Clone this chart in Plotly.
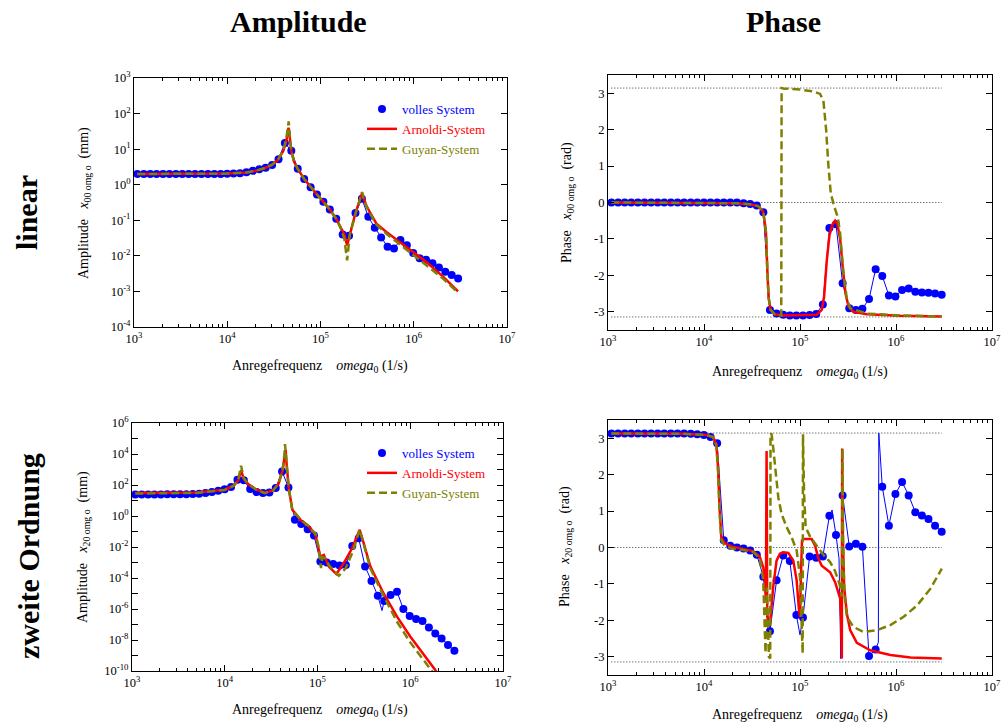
import plotly.graph_objects as go

SERIF = "Liberation Serif"
BLUE = "#0000ff"
RED = "#ff0000"
OLIVE = "#808000"

# ---------------- data ----------------
FREQ = [1086, 1274, 1493, 1746, 2047, 2399, 2812, 3296, 3855, 4519, 5297, 6209, 7278, 8511, 9977,
        11695, 13709, 16069, 18793, 22029, 25823, 30269, 35481, 41495, 48641, 57016, 66834, 78343,
        91622, 107399, 125893, 147571, 172982, 202302, 237137, 277971, 325837, 381944, 446684,
        523600, 613762, 719449, 843335, 986279, 1156112, 1355189, 1588546, 1862087, 2177942,
        2552701, 2992265]

# linear – amplitude (volles System)
TL_BLUE = [2.0, 2.0, 2.0, 2.0, 2.0, 2.0, 2.0, 2.0, 2.0, 2.0, 2.0, 2.0, 2.0, 2.0, 2.02,
           2.05, 2.1, 2.25, 2.45, 2.7, 3.0, 3.6, 5.2, 15, 9, 2.8, 1.45, 0.85,
           0.53, 0.33, 0.2, 0.11, 0.04, 0.037, 0.16, 0.4, 0.125, 0.062, 0.033,
           0.018, 0.016, 0.028, 0.02, 0.012, 0.0085, 0.0078, 0.0062, 0.0047, 0.0036,
           0.0029, 0.0023]
TL_RED_F = [1083, 10000, 16000, 20000, 25000, 30000, 35000, 40000, 43000, 44500, 45400, 46500,
            48641, 52000, 57016, 66834, 78343, 91622, 107399, 125893, 147571, 165000, 180000,
            193000, 204000, 237137, 260000, 279000, 290000, 310000, 338000, 398000, 509000,
            708000, 984000, 1367000, 2061000, 2985000]
TL_RED_V = [2.0, 2.05, 2.2, 2.45, 2.9, 3.6, 5.0, 9.0, 17, 28, 40, 25,
            9.0, 4.5, 2.8, 1.45, 0.85, 0.53, 0.33, 0.2, 0.11, 0.065, 0.04,
            0.0195, 0.035, 0.16, 0.33, 0.58, 0.42, 0.26, 0.17, 0.08, 0.047,
            0.025, 0.013, 0.0067, 0.0026, 0.001]
TL_OLV_F = [1083, 10000, 16000, 20000, 25000, 30000, 35000, 40000, 43000, 44500, 45600, 47000,
            48641, 52000, 57016, 66834, 78343, 91622, 107399, 125893, 147571, 165000, 180000,
            188000, 193000, 198000, 206000, 237137, 260000, 279000, 290000, 310000, 338000,
            398000, 509000, 708000, 984000, 1367000, 2061000, 2985000]
TL_OLV_V = [2.0, 2.05, 2.2, 2.45, 2.9, 3.6, 5.0, 9.5, 20, 40, 60, 22,
            9.0, 4.5, 2.8, 1.45, 0.85, 0.53, 0.33, 0.2, 0.11, 0.06, 0.03,
            0.015, 0.0075, 0.014, 0.04, 0.15, 0.32, 0.62, 0.42, 0.25, 0.16,
            0.075, 0.042, 0.021, 0.011, 0.0055, 0.0023, 0.00093]

# linear – phase
TR_BLUE = [0.0] * 20 + [-0.02, -0.04, -0.08, -0.27, -2.95, -3.05, -3.08, -3.1, -3.1, -3.1,
                        -3.09, -3.06, -2.8, -0.7, -0.6, -2.22, -2.9, -2.95, -2.92, -2.65,
                        -1.83, -2.02, -2.55, -2.58, -2.4, -2.36, -2.45, -2.47, -2.48, -2.5, -2.53]
TR_RED_F = [1083, 9017, 21770, 30000, 36640, 41390, 44150, 45600, 47030, 49320, 54800, 66980,
            149300, 168400, 178100, 190000, 202700, 217800, 232200, 245500, 261800, 279300,
            297900, 320000, 360600, 497500, 1109000, 3000000]
TR_RED_V = [0, 0, -0.02, -0.05, -0.1, -0.25, -0.8, -1.8, -2.6, -2.95, -3.07, -3.1,
            -3.08, -2.95, -2.6, -1.6, -0.9, -0.6, -0.5, -0.6, -1.0, -1.8,
            -2.5, -2.85, -3.0, -3.07, -3.11, -3.13]
TR_OLV_F = [1083, 9017, 21770, 30000, 36640, 41390, 44150, 45600, 47030, 49320, 54800, 63800,
            64330, 66980, 100000, 137700, 161800, 175300, 187100, 197800, 209300, 226500,
            247500, 261800, 283800, 307600, 333200, 497500, 1109000, 3000000]
TR_OLV_V = [0, 0, -0.02, -0.05, -0.1, -0.25, -0.8, -1.8, -2.6, -2.95, -3.07, -3.1,
            3.14, 3.13, 3.1, 3.05, 2.98, 2.8, 2.0, 1.0, 0.25, -0.1,
            -0.4, -0.85, -1.95, -2.65, -2.9, -3.05, -3.1, -3.13]

# zweite Ordnung – amplitude
BL_BLUE = [24, 24, 24, 24, 24, 25, 25, 25, 25, 26, 27, 30, 35, 42, 54,
           73, 220, 200, 55, 35, 30, 33, 63, 750, 70, 0.57, 0.30, 0.14,
           0.055, 0.00115, 0.001, 0.00081, 0.00063, 0.0007, 0.0118, 0.037, 0.00055, 6.5e-5, 7.2e-6,
           3.3e-6, 8e-6, 1.3e-5, 1e-6, 3.5e-7, 2.3e-7, 1.7e-7, 6.5e-8, 2.6e-8, 1.26e-8,
           4.7e-9, 2e-9]
BL_BLUE_EXTRA_F = [496000]
BL_BLUE_EXTRA_V = [7.9e-7]
BL_RED_F = [1083, 5000, 10000, 12500, 14000, 15000, 16000, 18000, 22000, 27000, 33000, 38000,
            42000, 44000, 45300, 46500, 49000, 53500, 65600, 80700, 95100, 103300, 107600,
            117000, 132400, 160000, 192000, 236000, 267000, 285000, 315000, 372000, 516000,
            720000, 1000000, 1390000, 1860000, 3000000]
BL_RED_V = [30, 33, 50, 90, 200, 870, 250, 110, 50, 32, 45, 120,
            800, 5000, 19000, 2000, 60, 2.5, 0.56, 0.21, 0.06, 0.0065, 0.0024,
            0.0031, 5.5e-4, 1.8e-4, 9e-4, 0.0083, 0.048, 0.13, 0.017, 5.5e-4, 1e-5,
            3.2e-7, 1.7e-8, 1.1e-9, 1.15e-10, 1e-12]
BL_OLV_F = [1083, 5000, 10000, 12500, 14000, 15000, 16000, 18000, 22000, 27000, 33000, 38000,
            42000, 44000, 44600, 46000, 49000, 53500, 65600, 80700, 95100, 103000, 109000,
            113000, 120000, 135000, 170000, 200000, 240000, 268000, 285000, 315000, 372000,
            516000, 720000, 1000000, 1390000, 1710000, 3000000]
BL_OLV_V = [28, 31, 48, 90, 220, 1750, 280, 110, 48, 30, 43, 120,
            1000, 9000, 44000, 3000, 60, 2.5, 0.6, 0.22, 0.07, 0.01, 4.3e-4,
            0.0022, 0.002, 6e-4, 1.4e-4, 4e-4, 0.005, 0.04, 0.13, 0.015, 4e-4,
            7e-6, 1.5e-7, 7e-9, 5e-10, 1e-10, 1e-13]

# zweite Ordnung – phase
BR_BLUE = [3.13] * 12 + [3.12, 3.11, 3.09, 3.03, 2.86, 0.2, 0.05, 0.0, -0.03, -0.08, -0.2,
                         -0.8, -2.3, -0.9, -0.22, -0.37, -1.85, -1.92, -0.25, -0.28, -0.25,
                         0.87, 0.34, 1.43, 0.03, 0.1, 0.02, -2.98, -2.8, 1.67, 0.6, 1.47,
                         1.8, 1.43, 0.97, 0.88, 0.78, 0.6, 0.43]
BR_BLUE_EXTRA_F = [100000, 215800, 255000, 266000, 270000, 655000, 662000]
BR_BLUE_EXTRA_V = [-2.4, 1.03, -0.3, -3.05, -1.0, -2.6, 3.14]
BR_RED_F = [1083, 6030, 10570, 12410, 13450, 14000, 14580, 15170, 16440, 19310, 25580, 32530,
            38190, 41390, 43050, 44150, 44870, 45600, 48550, 52600, 57000, 61800, 66980, 75530,
            85170, 92270, 97640, 100000, 102400, 104900, 108300, 132400, 143500, 155500, 168400,
            181100, 205900, 232200, 251600, 261800, 268500, 272800, 274900, 279300, 288400,
            307600, 333200, 391000, 539300, 873400, 1413000, 3000000]
BR_RED_V = [3.13, 3.12, 3.09, 3.04, 2.83, 2.2, 1.01, 0.28, 0.12, 0.03, -0.04, -0.1,
            -0.26, -0.54, -0.9, -1.45, 2.65, -1.9, -2.13, -1.08, -0.36, -0.17, -0.13, -0.15,
            -0.36, -0.9, -1.72, -1.9, -0.72, 0.19, 0.23, 0.23, 0.05, -0.3, -0.5,
            -0.56, -0.68, -0.95, -1.25, -1.4, -2.0, -3.05, 2.72, 0.37, -1.08,
            -1.81, -2.27, -2.62, -2.82, -2.95, -3.02, -3.05]
BR_OLV_F = [1083, 6030, 10570, 12410, 13450, 14000, 14580, 15170, 16440, 19310, 25580, 32530,
            38190, 41390, 43750, 45160, 47410, 48940, 49320, 50540, 52600, 55680, 59400, 64330,
            72580, 81880, 92270, 100000, 104000, 106600, 107400, 110200, 114600, 127300, 149300,
            175300, 205900, 232200, 257600, 272800, 277300, 281500, 290400, 307600, 360600,
            458800, 632400, 873400, 1202000, 1659000, 2286000, 3000000]
BR_OLV_V = [3.13, 3.12, 3.09, 3.03, 2.8, 2.1, 0.9, 0.2, 0.05, -0.02, -0.07, -0.12,
            -0.3, -0.9, -2.9, -1.1, -3.0, -3.05, 3.13, 3.11, 2.74, 2.1, 1.38, 0.92,
            0.56, 0.28, -0.08, -0.81, -2.18, -2.91, 3.11, 1.5, 0.55, 0.3, 0.05,
            -0.2, -0.4, -0.65, -1.0, -1.35, 2.72, 0.0, -1.3, -1.9, -2.18,
            -2.32, -2.27, -2.13, -1.9, -1.59, -1.13, -0.58]

REF_F = [1083, 3000000]
REF_LEVELS = [3.14159, 0.0, -3.14159]

X_EXP = [3, 4, 5, 6, 7]
TL_Y_EXP = [-4, -3, -2, -1, 0, 1, 2, 3]
BL_Y_EXP = [-10, -8, -6, -4, -2, 0, 2, 4, 6]
BL_Y_MINOR_EXP = [-9, -7, -5, -3, -1, 1, 3, 5]
PHASE_TICKS = [-3, -2, -1, 0, 1, 2, 3]

SERIES_NAMES = ["volles System", "Arnoldi-System", "Guyan-System"]

# ---------------- figure ----------------
fig = go.Figure()


def merged(fx, fy, ex, ey):
    pts = sorted(zip(list(fx) + list(ex), list(fy) + list(ey)))
    return [p[0] for p in pts], [p[1] for p in pts]


panels = [
    ("x", "y", TL_BLUE, [], [], TL_RED_F, TL_RED_V, TL_OLV_F, TL_OLV_V, "legend", False),
    ("x2", "y2", TR_BLUE, [], [], TR_RED_F, TR_RED_V, TR_OLV_F, TR_OLV_V, None, True),
    ("x3", "y3", BL_BLUE, BL_BLUE_EXTRA_F, BL_BLUE_EXTRA_V, BL_RED_F, BL_RED_V, BL_OLV_F, BL_OLV_V, "legend2", False),
    ("x4", "y4", BR_BLUE, BR_BLUE_EXTRA_F, BR_BLUE_EXTRA_V, BR_RED_F, BR_RED_V, BR_OLV_F, BR_OLV_V, None, True),
]

for xa, ya, blue, exf, exv, rf, rv, of, ov, leg, phase in panels:
    if phase:
        for lvl in REF_LEVELS:
            fig.add_trace(go.Scatter(x=REF_F, y=[lvl, lvl], xaxis=xa, yaxis=ya, mode="lines",
                                     line=dict(color="black", width=0.8, dash="1px,2px"),
                                     showlegend=False, hoverinfo="skip"))
    lx, ly = merged(FREQ, blue, exf, exv)
    fig.add_trace(go.Scatter(x=lx, y=ly, xaxis=xa, yaxis=ya, mode="lines",
                             line=dict(color=BLUE, width=1), showlegend=False))
    show = leg is not None
    fig.add_trace(go.Scatter(x=FREQ, y=blue, xaxis=xa, yaxis=ya, mode="markers",
                             marker=dict(color=BLUE, size=8),
                             name=f'<span style="color:{BLUE}">{SERIES_NAMES[0]}</span>',
                             showlegend=show, legend=leg if show else None))
    fig.add_trace(go.Scatter(x=rf, y=rv, xaxis=xa, yaxis=ya, mode="lines",
                             line=dict(color=RED, width=2.5),
                             name=f'<span style="color:{RED}">{SERIES_NAMES[1]}</span>',
                             showlegend=show, legend=leg if show else None))
    fig.add_trace(go.Scatter(x=of, y=ov, xaxis=xa, yaxis=ya, mode="lines",
                             line=dict(color=OLIVE, width=2.5, dash="8px,4px"),
                             name=f'<span style="color:{OLIVE}">{SERIES_NAMES[2]}</span>',
                             showlegend=show, legend=leg if show else None))

tickfont = dict(family=SERIF, size=12.5, color="black")
x_minor = [m * 10 ** e for e in range(3, 7) for m in range(2, 10)]

COMMON = dict(ticks="inside", ticklen=6, tickcolor="black", mirror="allticks",
              showline=True, linecolor="black", linewidth=1, showgrid=False, zeroline=False,
              tickfont=tickfont, automargin=False, fixedrange=True)


def xaxis(domain, anchor):
    return dict(type="log", range=[3, 7], domain=domain, anchor=anchor,
                tickmode="array", tickvals=[10 ** e for e in X_EXP],
                ticktext=[f"10<sup>{e}</sup>" for e in X_EXP],
                minor=dict(tickmode="array", tickvals=x_minor, ticks="inside", ticklen=3,
                           tickcolor="black", showgrid=False),
                **COMMON)


def logy(domain, anchor, exps, minor_exps):
    d = dict(type="log", range=[exps[0], exps[-1]], domain=domain,
             anchor=anchor, tickmode="array", tickvals=[10.0 ** e for e in exps],
             ticktext=[f"10<sup>{e}</sup>" for e in exps], **COMMON)
    if minor_exps:
        d["minor"] = dict(tickmode="array", tickvals=[10.0 ** e for e in minor_exps],
                          ticks="inside", ticklen=6, tickcolor="black", showgrid=False)
    return d


def phasey(domain, anchor):
    return dict(range=[-3.5, 3.5], domain=domain, anchor=anchor,
                tickmode="array", tickvals=PHASE_TICKS, ticktext=[str(v) for v in PHASE_TICKS],
                **COMMON)


W, H = 1005, 727


def px(x):
    return x / W


def py(y):
    return (H - y) / H


fig.update_layout(
    template="none",
    width=W, height=H, margin=dict(l=0, r=0, t=0, b=0, pad=0, autoexpand=False),
    paper_bgcolor="white", plot_bgcolor="white",
    font=dict(family=SERIF, color="black"),
    hovermode=False,
    xaxis=xaxis([px(134), px(507)], "y"),
    yaxis=logy([py(327), py(78)], "x", TL_Y_EXP, None),
    xaxis2=xaxis([px(608), px(992)], "y2"),
    yaxis2=phasey([py(330), py(75)], "x2"),
    xaxis3=xaxis([px(132), px(503)], "y3"),
    yaxis3=logy([py(671), py(423)], "x3", BL_Y_EXP, BL_Y_MINOR_EXP),
    xaxis4=xaxis([px(608), px(992)], "y4"),
    yaxis4=phasey([py(675), py(420)], "x4"),
    legend=dict(x=px(362), y=py(94), xanchor="left", yanchor="top", bgcolor="rgba(0,0,0,0)",
                borderwidth=0, font=dict(family=SERIF, size=13), tracegroupgap=0),
    legend2=dict(x=px(362), y=py(438), xanchor="left", yanchor="top", bgcolor="rgba(0,0,0,0)",
                 borderwidth=0, font=dict(family=SERIF, size=13), tracegroupgap=0),
)

ann = []
ann.append(dict(text="<b>Amplitude</b>", x=px(298), y=py(21), font=dict(family=SERIF, size=30)))
ann.append(dict(text="<b>Phase</b>", x=px(783), y=py(21), font=dict(family=SERIF, size=30)))
ann.append(dict(text="<b>linear</b>", x=px(27), y=py(213), textangle=-90, font=dict(family=SERIF, size=30)))
ann.append(dict(text="<b>zweite Ordnung</b>", x=px(28), y=py(556), textangle=-90, font=dict(family=SERIF, size=30)))

xt = "Anregefrequenz &nbsp;&nbsp;&nbsp;<i>omega</i><sub>0</sub> (1/s)"
for cx, cy in [(320, 366), (800, 372), (320, 710), (800, 715)]:
    ann.append(dict(text=xt, x=px(cx), y=py(cy), font=dict(family=SERIF, size=14)))

ytitles = [
    ("Amplitude &nbsp;&nbsp;<i>x</i><sub>00 omg o</sub> &nbsp;(mm)", 84, 203),
    ("Phase &nbsp;&nbsp;<i>x</i><sub>00 omg o</sub> &nbsp;(rad)", 567, 203),
    ("Amplitude &nbsp;&nbsp;<i>x</i><sub>20 omg o</sub> &nbsp;(mm)", 83, 547),
    ("Phase &nbsp;&nbsp;<i>x</i><sub>20 omg o</sub> &nbsp;(rad)", 565, 547),
]
for t, cx, cy in ytitles:
    ann.append(dict(text=t, x=px(cx), y=py(cy), textangle=-90, font=dict(family=SERIF, size=14)))

for a in ann:
    a.update(xref="paper", yref="paper", showarrow=False, xanchor="center", yanchor="middle")
fig.update_layout(annotations=ann)

fig.write_html("out.html",
               config={"displayModeBar": False, "staticPlot": True},
               post_script="document.documentElement.style.margin='0';"
                           "document.body.style.margin='0';"
                           "document.body.style.overflow='hidden';")
